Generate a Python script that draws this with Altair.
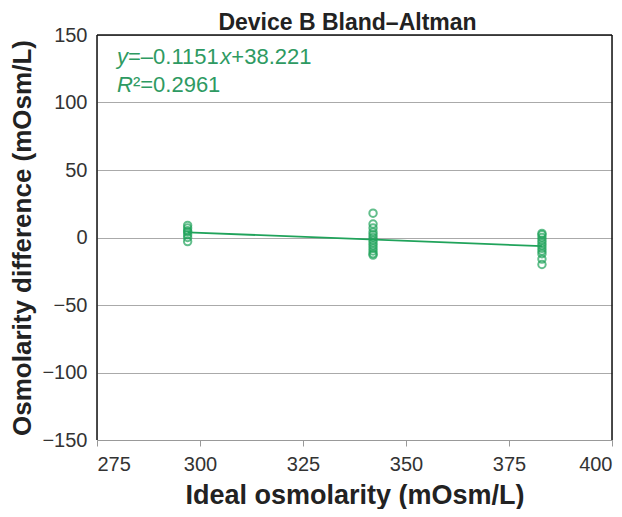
import altair as alt
import pandas as pd

# Data
ideal_levels = [297, 342, 383]
diff_297 = [9, 7, 5, 4, 2, 0, -3]
diff_342 = [18, 10, 7, 4, 2, 0, -2, -4, -6, -8, -10, -12, -13]
diff_383 = [3, 2, 0, -2, -4, -6, -8, -10, -12, -16, -20]

title_text = "Device B Bland\u2013Altman"
# equation pieces: (text, italic)
eq_parts = [("y", True), ("=\u20130.1151", False), ("x", True), ("+38.221", False)]
r2_parts = [("R", True), ("\u00b2=0.2961", False)]

x_ticks = [275, 300, 325, 350, 375, 400]
y_ticks = [-150, -100, -50, 0, 50, 100, 150]

rows = []
for xv, ds in zip(ideal_levels, [diff_297, diff_342, diff_383]):
    for d in ds:
        rows.append({"ideal": xv, "diff": d})
df = pd.DataFrame(rows)

GREEN = "#20a35b"
TEXTGREEN = "#2e9a62"
FONT = "Liberation Sans"
W, H = 515, 405
FS = 22

x_enc = alt.X("ideal:Q", scale=alt.Scale(domain=[275, 400], nice=False, zero=False),
              axis=alt.Axis(values=x_ticks, title="Ideal osmolarity (mOsm/L)", grid=False,
                            domainColor="#999999", tickColor="#999999", tickSize=6,
                            labelFontSize=20, labelColor="#333333", labelPadding=8,
                            titleFontSize=27, titleFontWeight="bold", titleColor="#222222",
                            titlePadding=8))
y_enc = alt.Y("diff:Q", scale=alt.Scale(domain=[-150, 150], nice=False, zero=False),
              axis=alt.Axis(values=y_ticks, title="Osmolarity difference (mOsm/L)", grid=True,
                            gridColor="#aaaaaa", domain=False, ticks=False,
                            labelFontSize=20, labelColor="#333333", labelPadding=10,
                            titleFontSize=26, titleFontWeight="bold", titleColor="#222222",
                            titlePadding=6))

points = alt.Chart(df).mark_point(shape="circle", size=55, strokeWidth=2, color=GREEN, filled=False).encode(
    x=x_enc, y=y_enc)

line = alt.Chart(df).transform_regression("ideal", "diff").mark_line(color=GREEN, strokeWidth=1.8).encode(
    x="ideal:Q", y="diff:Q")

# frame (left, top, right edges)
frame_color = "#111111"
frame_left = alt.Chart(pd.DataFrame({"a": [0]})).mark_rule(color=frame_color, strokeWidth=1.5).encode(
    x=alt.value(0), y=alt.value(0), y2=alt.value(H))
frame_right = alt.Chart(pd.DataFrame({"a": [0]})).mark_rule(color=frame_color, strokeWidth=1.5).encode(
    x=alt.value(W), y=alt.value(0), y2=alt.value(H))
frame_top = alt.Chart(pd.DataFrame({"a": [0]})).mark_rule(color=frame_color, strokeWidth=1.5).encode(
    x=alt.value(0), x2=alt.value(W), y=alt.value(0))

# character widths (em) for Liberation Sans, to place the italic pieces
def width_em(s):
    w = 0.0
    for ch in s:
        if ch in "0123456789":
            w += 0.556
        elif ch in "=+":
            w += 0.584
        elif ch == "\u2013":
            w += 0.556
        elif ch == ".":
            w += 0.278
        elif ch == "\u00b2":
            w += 0.333
        elif ch == "R":
            w += 0.722
        else:
            w += 0.5
    return w

def text_pieces(parts, x0, y0):
    layers = []
    x = x0
    for txt, ital in parts:
        layers.append(
            alt.Chart(pd.DataFrame({"t": [txt]})).mark_text(
                align="left", baseline="middle", fontSize=FS, color=TEXTGREEN, font=FONT,
                fontStyle="italic" if ital else "normal"
            ).encode(x=alt.value(x), y=alt.value(y0), text="t:N")
        )
        x += width_em(txt) * FS
    return layers

ann = text_pieces(eq_parts, 20, 22) + text_pieces(r2_parts, 20, 50)

title = alt.Chart(pd.DataFrame({"t": [title_text]})).mark_text(
    align="center", baseline="alphabetic", fontSize=23, fontWeight="bold", color="#222222", font=FONT
).encode(x=alt.value(W / 2 - 7), y=alt.value(-5), text="t:N")

chart = alt.layer(points, line, frame_left, frame_right, frame_top, title, *ann).properties(
    width=W, height=H,
    padding={"left": 89, "top": 27, "right": 2, "bottom": 69},
    autosize="none",
).configure_view(stroke=None).configure(font=FONT)

chart.save("out.html", embed_options={"renderer": "svg", "actions": False})
